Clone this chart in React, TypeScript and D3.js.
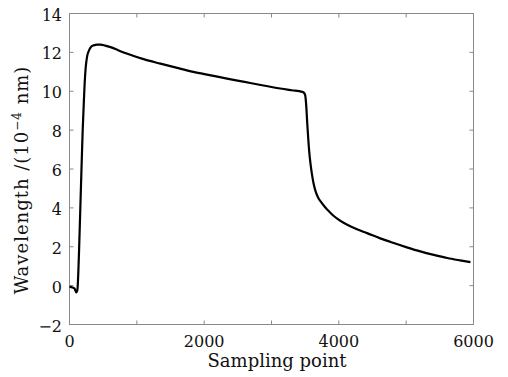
import React from "react";
import * as d3 from "d3";

const samples = [0, 45, 75, 100, 118, 130, 142, 160, 178, 195, 210, 225, 240, 262, 290, 325, 360, 410, 460, 530, 610, 730, 860, 1100, 1350, 1600, 1840, 2100, 2340, 2600, 2840, 3130, 3300, 3455, 3480, 3500, 3515, 3530, 3545, 3560, 3580, 3600, 3625, 3655, 3690, 3740, 3800, 3860, 3925, 4025, 4125, 4270, 4420, 4615, 4815, 5010, 5210, 5410, 5610, 5800, 5955];
const values = [-0.05, -0.1, -0.15, -0.35, -0.2, 0.6, 1.8, 3.9, 6.0, 7.9, 9.2, 10.4, 11.2, 11.8, 12.1, 12.3, 12.36, 12.4, 12.4, 12.35, 12.27, 12.1, 11.93, 11.65, 11.42, 11.2, 11.0, 10.82, 10.65, 10.48, 10.32, 10.14, 10.05, 9.97, 9.93, 9.8, 9.3, 8.4, 7.6, 6.9, 6.25, 5.75, 5.25, 4.85, 4.55, 4.28, 4.02, 3.8, 3.58, 3.33, 3.13, 2.9, 2.7, 2.43, 2.19, 1.97, 1.76, 1.58, 1.42, 1.3, 1.21];

const xTicks = [0, 1000, 2000, 3000, 4000, 5000, 6000];
const xTickLabels = [0, 2000, 4000, 6000];
const yTicks = [-2, 0, 2, 4, 6, 8, 10, 12, 14];

export default function App() {
  const W = 508, H = 377;
  const L = 69.5, R = 473.5, T = 13.5, B = 324.5;
  const x = d3.scaleLinear().domain([0, 6000]).range([L, R]);
  const y = d3.scaleLinear().domain([-2, 14]).range([B, T]);
  const data = samples.map((s, i) => [s, values[i]] as [number, number]);
  const line = d3.line<[number, number]>().x(d => x(d[0])).y(d => y(d[1])).curve(d3.curveMonotoneX);
  const font = "'DejaVu Serif', serif";
  const tickColor = "#8a8a8a";
  const tl = 4;
  return (
    <svg width={W} height={H} style={{ position: "absolute", left: 0, top: 0, background: "#fff" }}>
      <rect x={0} y={0} width={W} height={H} fill="#fff" />
      <rect x={L} y={T} width={R - L} height={B - T} fill="none" stroke={tickColor} strokeWidth={1} />
      {xTicks.map(t => (
        <g key={"xt" + t}>
          <line x1={x(t)} x2={x(t)} y1={B} y2={B - tl} stroke={tickColor} />
          <line x1={x(t)} x2={x(t)} y1={T} y2={T + tl} stroke={tickColor} />
        </g>
      ))}
      {yTicks.map(t => (
        <g key={"yt" + t}>
          <line x1={L} x2={L + tl} y1={y(t)} y2={y(t)} stroke={tickColor} />
          <line x1={R} x2={R - tl} y1={y(t)} y2={y(t)} stroke={tickColor} />
        </g>
      ))}
      {xTickLabels.map(t => (
        <text key={"xl" + t} x={x(t)} y={347} textAnchor="middle" fontFamily={font} fontSize={16} fill="#111">{t}</text>
      ))}
      {yTicks.map(t => (
        <text key={"yl" + t} x={62} y={y(t) + 7} textAnchor="end" fontFamily={font} fontSize={16} fill="#111">{t < 0 ? "\u2212" + Math.abs(t) : t}</text>
      ))}
      <text x={277} y={367} textAnchor="middle" fontFamily={font} fontSize={18} fill="#111">Sampling point</text>
      <text transform={`translate(28,180) rotate(-90)`} textAnchor="middle" fontFamily={font} fontSize={18} letterSpacing={1} fill="#111">
        Wavelength /(10<tspan baselineShift="super" fontSize={12}>{"\u22124"}</tspan> nm)
      </text>
      <path d={line(data) || ""} fill="none" stroke="#000" strokeWidth={2.2} strokeLinejoin="round" />
    </svg>
  );
}
